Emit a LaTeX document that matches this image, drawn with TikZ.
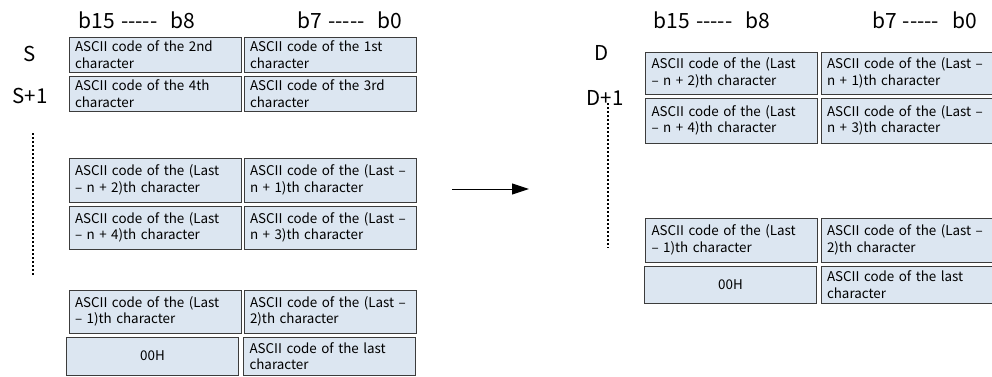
\documentclass[tikz,border=0pt]{standalone}
\usepackage{fontspec}
\setmainfont{Noto Sans CJK SC}
\usetikzlibrary{arrows.meta,positioning}
\usepackage{xcolor}
\definecolor{cellblue}{RGB}{220,230,241}
\definecolor{cellline}{RGB}{60,60,60}
% five plain hyphens, kept apart so that they are not joined into dashes
\newcommand{\bitdash}{-\kern0pt-\kern0pt-\kern0pt-\kern0pt-}

\begin{document}
\begin{tikzpicture}[x=1pt, y=-1pt,
        cell/.style={draw=cellline, fill=cellblue, line width=1pt, inner xsep=6pt, inner ysep=0pt,
            text width=160pt, align=left, font=\fontsize{13.4}{16.5}\selectfont},
        zerocell/.style={cell, align=center},
        bits/.style={font=\fontsize{21}{24}\selectfont},
        addr/.style={font=\fontsize{20.5}{24}\selectfont},
        gap/.style={line width=1.5pt, dash pattern=on 1.5pt off 2.5pt}]
        \useasboundingbox (0,0) rectangle (992,376);

        % Source words
        \node[bits] (sHi) at (137,20) {b15\hspace{6pt}\bitdash\hspace{13pt}b8};
        \node[bits] (sLo) at (350,20) {b7\hspace{6pt}\bitdash\hspace{13pt}b0};
        \node[addr] (sAddr) at (30,54) {S};
        \node[addr] (sAddrNext) at (30,96) {S+1};

        \node[cell, minimum height=35pt] (s1h) at (155,54.5) {ASCII code of the 2nd\\character};
        \node[cell, minimum height=35pt] (s1l) at (330,54.5) {ASCII code of the 1st\\character};
        \node[cell, minimum height=35pt] (s2h) at (155,93.5) {ASCII code of the 4th\\character};
        \node[cell, minimum height=35pt] (s2l) at (330,93.5) {ASCII code of the 3rd\\character};
        \node[cell, minimum height=44pt] (s3h) at (155,180) {ASCII code of the (Last\\– n + 2)th character};
        \node[cell, minimum height=44pt] (s3l) at (330,180) {ASCII code of the (Last –\\n + 1)th character};
        \node[cell, minimum height=43pt] (s4h) at (155,227.5) {ASCII code of the (Last\\– n + 4)th character};
        \node[cell, minimum height=43pt] (s4l) at (330,227.5) {ASCII code of the (Last –\\n + 3)th character};
        \node[cell, minimum height=43pt] (s5h) at (155,311.5) {ASCII code of the (Last\\– 1)th character};
        \node[cell, minimum height=43pt] (s5l) at (330,311.5) {ASCII code of the (Last –\\2)th character};
        \node[zerocell, minimum height=38pt] (s6h) at (152.5,356) {00H};
        \node[cell, minimum height=38pt] (s6l) at (329.5,356) {ASCII code of the last\\character};

        \coordinate (sGapTop) at (33,133);
        \coordinate (sGapEnd) at (33,277);
        \draw[gap] (sGapTop) -- (sGapEnd);

        % Transfer
        \coordinate (moveFrom) at (452,189);
        \coordinate (moveTo) at (529,189);
        \draw[line width=1pt, -{Triangle[length=17pt, width=11pt]}] (moveFrom) -- (moveTo);

        % Destination words
        \node[bits] (dHi) at (712,20) {b15\hspace{6pt}\bitdash\hspace{13pt}b8};
        \node[bits] (dLo) at (924.5,20) {b7\hspace{6pt}\bitdash\hspace{13pt}b0};
        \node[addr] (dAddr) at (602,53) {D};
        \node[addr] (dAddrNext) at (605,98) {D+1};

        \node[cell, minimum height=42pt] (d1h) at (731.5,73) {ASCII code of the (Last\\– n + 2)th character};
        \node[cell, minimum height=42pt] (d1l) at (907,73) {ASCII code of the (Last –\\n + 1)th character};
        \node[cell, minimum height=45pt] (d2h) at (731.5,120.5) {ASCII code of the (Last\\– n + 4)th character};
        \node[cell, minimum height=45pt] (d2l) at (907,120.5) {ASCII code of the (Last –\\n + 3)th character};
        \node[cell, minimum height=44pt] (d3h) at (731.5,240) {ASCII code of the (Last\\– 1)th character};
        \node[cell, minimum height=44pt] (d3l) at (907,240) {ASCII code of the (Last –\\2)th character};
        \node[zerocell, minimum height=37pt] (d4h) at (730.5,284.5) {00H};
        \node[cell, minimum height=37pt] (d4l) at (907,284.5) {ASCII code of the last\\character};

        \coordinate (dGapTop) at (608,103);
        \coordinate (dGapEnd) at (608,248);
        \draw[gap] (dGapTop) -- (dGapEnd);
    \end{tikzpicture}
\end{document}
